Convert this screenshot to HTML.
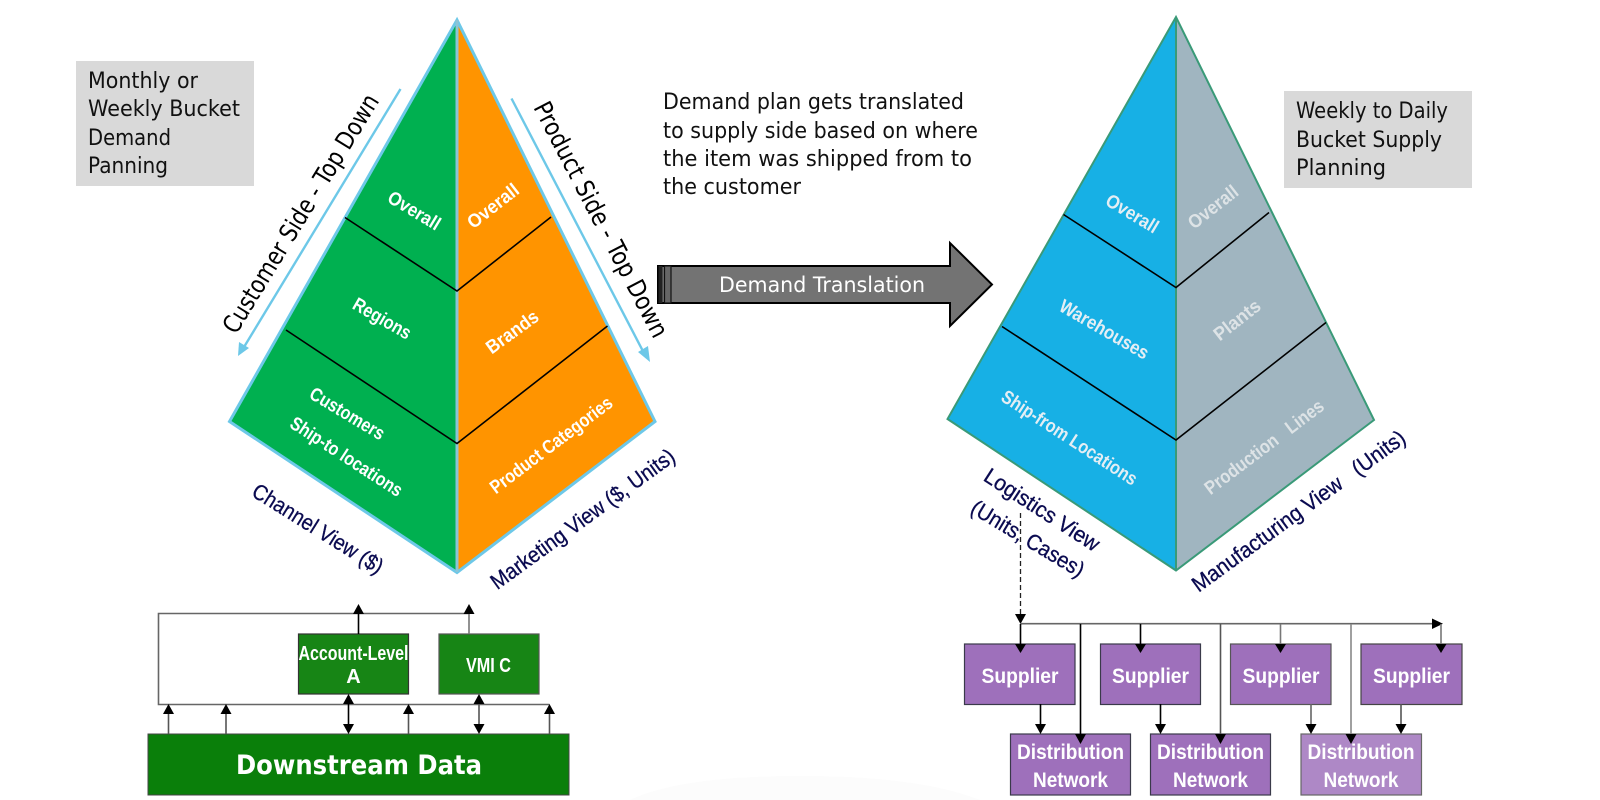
<!DOCTYPE html>
<html lang="en">
<head>
<meta charset="utf-8">
<title>Demand Translation Diagram</title>
<style>
html,body{margin:0;padding:0;background:#fff;width:1600px;height:800px;overflow:hidden}
svg{display:block}
.t{font-family:"DejaVu Sans",sans-serif;fill:#111;font-size:22px}
.b{font-family:"Liberation Sans",sans-serif;font-weight:bold;fill:#fff;text-anchor:middle}
.n{font-family:"Liberation Sans",sans-serif;fill:#0a0a50;stroke:#0a0a50;stroke-width:.3;text-anchor:middle;font-size:22px}
.s{font-family:"DejaVu Sans",sans-serif;fill:#000;text-anchor:middle;font-size:25px}
</style>
</head>
<body>
<svg xmlns="http://www.w3.org/2000/svg" width="1600" height="800" viewBox="0 0 1600 800">
<rect width="1600" height="800" fill="#fff"/>
<path d="M630 800 Q680 776 800 776 Q920 776 980 800 Z" fill="#fcfcfc"/>

<!-- Grey note boxes -->
<rect x="76" y="61" width="178" height="125" fill="#d9d9d9"/>
<rect x="1284" y="91" width="188" height="97" fill="#d9d9d9"/>
<text class="t" x="88" y="88" textLength="110" lengthAdjust="spacingAndGlyphs">Monthly or</text>
<text class="t" x="88" y="116" textLength="152" lengthAdjust="spacingAndGlyphs">Weekly Bucket</text>
<text class="t" x="88" y="145" textLength="83" lengthAdjust="spacingAndGlyphs">Demand</text>
<text class="t" x="88" y="173" textLength="80" lengthAdjust="spacingAndGlyphs">Panning</text>
<text class="t" x="1296" y="118" textLength="152" lengthAdjust="spacingAndGlyphs">Weekly to Daily</text>
<text class="t" x="1296" y="147" textLength="146" lengthAdjust="spacingAndGlyphs">Bucket Supply</text>
<text class="t" x="1296" y="175" textLength="90" lengthAdjust="spacingAndGlyphs">Planning</text>

<text class="t" x="663" y="109" textLength="301" lengthAdjust="spacingAndGlyphs">Demand plan gets translated</text>
<text class="t" x="663" y="138" textLength="315" lengthAdjust="spacingAndGlyphs">to supply side based on where</text>
<text class="t" x="663" y="166" textLength="309" lengthAdjust="spacingAndGlyphs">the item was shipped from to</text>
<text class="t" x="663" y="194" textLength="138" lengthAdjust="spacingAndGlyphs">the customer</text>

<!-- Left pyramid -->
<polygon points="457,20 229.5,421.5 457,572.5" fill="#00b050"/>
<polygon points="457,20 655,421.500 457,572.500" fill="#ff9400"/>
<polygon points="457,20 229.5,421.5 457,572.5 655,421.500" fill="none" stroke="#6dc8e8" stroke-width="3"/>
<line x1="457" y1="20" x2="457" y2="572" stroke="#8cc4d6" stroke-width="3"/>
<path d="M345 217.5 L457 291 L551 217" fill="none" stroke="#000" stroke-width="1.6"/>
<path d="M286 330 L457 443.5 L607.5 326" fill="none" stroke="#000" stroke-width="1.6"/>

<!-- Side arrows -->
<line x1="400.5" y1="89" x2="241" y2="352" stroke="#6dc8e8" stroke-width="2.4"/>
<polygon points="238,356 239,342 249,348" fill="#6dc8e8"/>
<line x1="511.5" y1="98.5" x2="646" y2="357" stroke="#6dc8e8" stroke-width="2.4"/>
<polygon points="650,362 638,352 648,346" fill="#6dc8e8"/>
<text class="s" transform="translate(308,218) rotate(-58.500)" textLength="275" lengthAdjust="spacingAndGlyphs">Customer Side - Top Down</text>
<text class="s" transform="translate(593.500,223.500) rotate(62.500)" textLength="262" lengthAdjust="spacingAndGlyphs">Product Side - Top Down</text>

<!-- Left labels -->
<text class="b" font-size="19" transform="translate(411,216) rotate(31)" textLength="58" lengthAdjust="spacingAndGlyphs">Overall</text>
<text class="b" font-size="19" transform="translate(379,324) rotate(30)" textLength="64" lengthAdjust="spacingAndGlyphs">Regions</text>
<text class="b" font-size="19" transform="translate(344,419) rotate(31)" textLength="84" lengthAdjust="spacingAndGlyphs">Customers</text>
<text class="b" font-size="19" transform="translate(343,462) rotate(33)" textLength="130" lengthAdjust="spacingAndGlyphs">Ship-to locations</text>
<text class="b" font-size="19" transform="translate(497,211) rotate(-38)" textLength="60" lengthAdjust="spacingAndGlyphs">Overall</text>
<text class="b" font-size="19" transform="translate(516,337) rotate(-36)" textLength="60" lengthAdjust="spacingAndGlyphs">Brands</text>
<text class="b" font-size="19" transform="translate(555,450) rotate(-37)" textLength="148" lengthAdjust="spacingAndGlyphs">Product Categories</text>
<text class="n" transform="translate(314,535) rotate(32)" textLength="150" lengthAdjust="spacingAndGlyphs">Channel View ($)</text>
<text class="n" transform="translate(587,525) rotate(-36)" textLength="222" lengthAdjust="spacingAndGlyphs">Marketing View ($, Units)</text>

<!-- Center arrow -->
<polygon points="658,266 950,266 950,243 992,284.5 950,326 950,303 658,303" fill="#737373" stroke="#000" stroke-width="2"/>
<rect x="658.5" y="266" width="4" height="37" fill="#222"/>
<rect x="664.5" y="266" width="6.500" height="37" fill="#666" stroke="#111" stroke-width="1.2"/>
<text font-family="'DejaVu Sans',sans-serif" font-size="21" fill="#fff" x="719" y="292" textLength="206" lengthAdjust="spacingAndGlyphs">Demand Translation</text>

<!-- Right pyramid -->
<polygon points="1176,17 947.5,419 1176,570.5" fill="#17b0e5"/>
<polygon points="1176,17 1374,420 1176,570.5" fill="#a0b5c0"/>
<polygon points="1176,17 947.5,419 1176,570.5 1374,420" fill="none" stroke="#3a9a78" stroke-width="2"/>
<line x1="1176" y1="17" x2="1176" y2="570" stroke="#3a9a78" stroke-width="2"/>
<path d="M1063.5 214.5 L1176 287.5 L1269 212.5" fill="none" stroke="#000" stroke-width="1.6"/>
<path d="M1002 326.5 L1176 440 L1326 322.5" fill="none" stroke="#000" stroke-width="1.6"/>

<!-- Right labels -->
<text class="b" font-size="19" style="fill:#e4eef4" transform="translate(1129,219) rotate(31)" textLength="58" lengthAdjust="spacingAndGlyphs">Overall</text>
<text class="b" font-size="19" style="fill:#e4eef4" transform="translate(1101,335) rotate(30)" textLength="100" lengthAdjust="spacingAndGlyphs">Warehouses</text>
<text class="b" font-size="19" style="fill:#e4eef4" transform="translate(1066,443) rotate(33)" textLength="158" lengthAdjust="spacingAndGlyphs">Ship-from Locations</text>
<text class="b" font-size="19" style="fill:#dde3e6" transform="translate(1217,212) rotate(-38)" textLength="58" lengthAdjust="spacingAndGlyphs">Overall</text>
<text class="b" font-size="19" style="fill:#dde3e6" transform="translate(1241,325) rotate(-38)" textLength="54" lengthAdjust="spacingAndGlyphs">Plants</text>
<text class="b" font-size="19" style="fill:#dde3e6" transform="translate(1268,452) rotate(-37)" textLength="144" lengthAdjust="spacingAndGlyphs" xml:space="preserve">Production   Lines</text>
<text class="n" transform="translate(1038,516) rotate(33)" textLength="133" lengthAdjust="spacingAndGlyphs">Logistics View</text>
<text class="n" transform="translate(1024,545) rotate(31)" textLength="128" lengthAdjust="spacingAndGlyphs">(Units, Cases)</text>
<text class="n" transform="translate(1303,517) rotate(-36)" textLength="258" lengthAdjust="spacingAndGlyphs" xml:space="preserve">Manufacturing View   (Units)</text>

<!-- Lower left -->
<rect x="148" y="734" width="421" height="61" fill="#0a7f0a" stroke="#444" stroke-width="1"/>
<text font-family="'DejaVu Sans',sans-serif" font-weight="bold" font-size="27" fill="#fff" x="236" y="774" textLength="246" lengthAdjust="spacingAndGlyphs">Downstream Data</text>
<path d="M469 613.5 H158.5 V704.5 H549.5" fill="none" stroke="#666" stroke-width="1.6"/>
<rect x="298.5" y="634" width="110" height="60" fill="#178515" stroke="#333" stroke-width="1.2"/>
<rect x="439" y="634" width="100" height="60" fill="#178515" stroke="#555" stroke-width="1.2"/>
<text class="b" font-size="20" x="353.5" y="660" textLength="110" lengthAdjust="spacingAndGlyphs">Account-Level</text>
<text class="b" font-size="20" x="353.5" y="683">A</text>
<text class="b" font-size="20" x="488.5" y="672" textLength="45" lengthAdjust="spacingAndGlyphs">VMI C</text>

<g stroke-width="1.6">
<line x1="358.5" y1="634" x2="358.5" y2="610" stroke="#000"/>
<line x1="469" y1="634" x2="469" y2="610" stroke="#777"/>
<line x1="168.5" y1="734" x2="168.5" y2="712" stroke="#555"/>
<line x1="226" y1="734" x2="226" y2="712" stroke="#555"/>
<line x1="408.5" y1="734" x2="408.5" y2="712" stroke="#555"/>
<line x1="549.5" y1="734" x2="549.5" y2="712" stroke="#555"/>
<line x1="348.5" y1="700" x2="348.5" y2="728" stroke="#000"/>
<line x1="479" y1="700" x2="479" y2="728" stroke="#555"/>
</g>
<g fill="#000">
<polygon points="358.5,604 353,614 364,614"/>
<polygon points="469,604 463.500,614 474.500,614"/>
<polygon points="168.5,704 163,714 174,714"/>
<polygon points="226,704 220.500,714 231.500,714"/>
<polygon points="408.5,704 403,714 414,714"/>
<polygon points="549.5,704 544,714 555,714"/>
<polygon points="348.5,694 343,704 354,704"/>
<polygon points="348.5,734 343,724 354,724"/>
<polygon points="479,694 473.500,704 484.500,704"/>
<polygon points="479,734 473.500,724 484.500,724"/>
</g>

<!-- Lower right boxes -->
<g fill="#9e70bb" stroke="#3a3a4a" stroke-width="1.2">
<rect x="964.5" y="644" width="110.500" height="60.500"/>
<rect x="1100.500" y="644" width="100" height="60.500"/>
<rect x="1230.500" y="644" width="100.500" height="60.500" stroke="#555"/>
<rect x="1361" y="644" width="101" height="60.500" stroke="#444"/>
<rect x="1010.500" y="734" width="120" height="61"/>
<rect x="1150.500" y="734" width="120" height="61"/>
<rect x="1301" y="734" width="120.500" height="61" fill="#ae88c6" stroke="#666"/>
</g>
<text class="b" font-size="21" x="1020" y="683" textLength="77" lengthAdjust="spacingAndGlyphs">Supplier</text>
<text class="b" font-size="21" x="1150.500" y="683" textLength="77" lengthAdjust="spacingAndGlyphs">Supplier</text>
<text class="b" font-size="21" x="1281" y="683" textLength="77" lengthAdjust="spacingAndGlyphs">Supplier</text>
<text class="b" font-size="21" x="1411.500" y="683" textLength="77" lengthAdjust="spacingAndGlyphs">Supplier</text>
<text class="b" font-size="21" x="1070.500" y="759" textLength="107" lengthAdjust="spacingAndGlyphs">Distribution</text>
<text class="b" font-size="21" x="1070.500" y="787" textLength="75" lengthAdjust="spacingAndGlyphs">Network</text>
<text class="b" font-size="21" x="1210.500" y="759" textLength="107" lengthAdjust="spacingAndGlyphs">Distribution</text>
<text class="b" font-size="21" x="1210.500" y="787" textLength="75" lengthAdjust="spacingAndGlyphs">Network</text>
<text class="b" font-size="21" x="1361" y="759" textLength="107" lengthAdjust="spacingAndGlyphs">Distribution</text>
<text class="b" font-size="21" x="1361" y="787" textLength="75" lengthAdjust="spacingAndGlyphs">Network</text>

<!-- Lower right connectors -->
<line x1="1020.500" y1="513" x2="1020.500" y2="614" stroke="#222" stroke-width="1.3" stroke-dasharray="5 3"/>
<polygon points="1020.500,624 1015,614 1026,614" fill="#000"/>
<line x1="1020.500" y1="623.700" x2="1434" y2="623.700" stroke="#666" stroke-width="1.6"/>
<polygon points="1443,623.700 1432,618.500 1432,629" fill="#000"/>
<g stroke-width="1.6">
<line x1="1020.500" y1="624" x2="1020.500" y2="645" stroke="#000"/>
<line x1="1140.500" y1="624" x2="1140.500" y2="645" stroke="#000"/>
<line x1="1280.500" y1="624" x2="1280.500" y2="645" stroke="#777"/>
<line x1="1441" y1="624" x2="1441" y2="645" stroke="#777"/>
<line x1="1080.500" y1="624" x2="1080.500" y2="735" stroke="#000"/>
<line x1="1220.500" y1="624" x2="1220.500" y2="735" stroke="#555"/>
<line x1="1351" y1="624" x2="1351" y2="735" stroke="#888"/>
<line x1="1040.500" y1="704" x2="1040.500" y2="725" stroke="#000"/>
<line x1="1160.500" y1="704" x2="1160.500" y2="725" stroke="#000"/>
<line x1="1311" y1="704" x2="1311" y2="725" stroke="#666"/>
<line x1="1401" y1="704" x2="1401" y2="725" stroke="#555"/>
</g>
<g fill="#000">
<polygon points="1020.500,653 1015,644 1026,644"/>
<polygon points="1140.500,653 1135,644 1146,644"/>
<polygon points="1280.500,653 1275,644 1286,644"/>
<polygon points="1441,653 1435.500,644 1446.500,644"/>
<polygon points="1080.500,744 1075,734 1086,734"/>
<polygon points="1220.500,744 1215,734 1226,734"/>
<polygon points="1351,744 1345.500,734 1356.500,734"/>
<polygon points="1040.500,734 1035,724 1046,724"/>
<polygon points="1160.500,734 1155,724 1166,724"/>
<polygon points="1311,734 1305.500,724 1316.500,724"/>
<polygon points="1401,734 1395.500,724 1406.500,724"/>
</g>
</svg>
</body>
</html>
